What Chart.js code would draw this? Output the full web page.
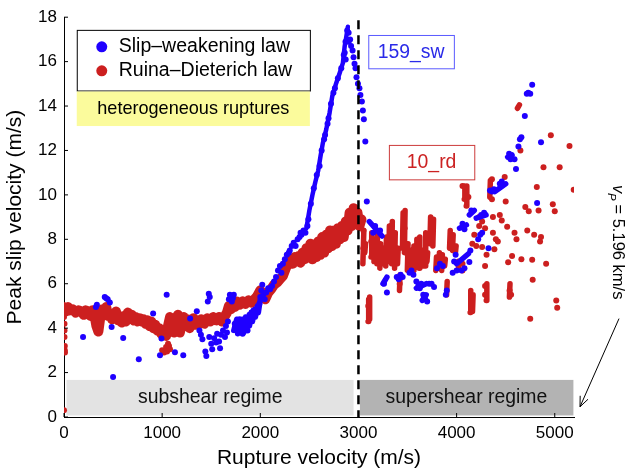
<!DOCTYPE html>
<html lang="en">
<head>
  <meta charset="UTF-8">
  <title>Peak slip velocity vs rupture velocity</title>
  <script src="https://cdn.jsdelivr.net/npm/chart.js"></script>
  <style>
    body { margin: 0; background: #fff; }
    #wrap { width: 631px; height: 473px; }
  </style>
</head>
<body>
  <div id="wrap"><canvas id="grafico" width="631" height="473"></canvas></div>

  <script>
    // axis ticks
    const xTicks = [0, 1000, 2000, 3000, 4000, 5000];
    const yTicks = [0, 2, 4, 6, 8, 10, 12, 14, 16, 18];
    const vShear = 3000;      // S-wave speed (dashed line)
    const vP = 5196;          // P-wave speed, end of axis

    // Ruina-Dieterich: dense band below vs, drawn as thick trace
    const rdBand = [
      [0,4.95],[20,4.75],[40,4.95],[60,4.8],[90,4.85],[120,4.7],[150,4.8],[180,4.75],[200,4.6],[220,4.8],
      [250,4.75],[270,4.55],[290,4.8],[310,4.6],[330,4.1],[350,3.85],[370,4.5],[390,4.85],[410,4.7],[430,4.95],
      [450,4.55],[470,4.65],[490,4.4],[510,4.6],[530,4.75],[550,4.35],[570,4.5],[590,4.25],[610,4.55],[630,4.3],
      [650,4.7],[670,4.45],[690,4.6],[710,4.35],[730,4.5],[750,4.3],[770,4.45],[790,4.3],[810,4.4],[830,4.2],
      [850,4.35],[870,4.1],[890,4.3],[910,4.0],[930,4.15],[950,3.9],[970,4.0],[990,3.75],[1010,3.85],[1040,3.65],
      [1060,4.1],[1080,4.5],[1100,4.2],[1120,3.8],[1140,4.3],[1160,4.6],[1180,3.8],[1200,4.2],[1220,4.5],[1240,4.1],
      [1260,4.4],[1280,4.0],[1300,4.25],[1320,4.45],[1340,4.15],[1360,4.35],[1380,4.2],[1400,4.4],[1430,4.2],[1460,4.45],
      [1490,4.3],[1520,4.5],[1550,4.35],[1580,4.5],[1610,4.3],[1640,4.55],[1660,4.7],[1680,5.0],[1700,4.85],[1720,5.1],
      [1740,4.95],[1760,5.2],[1790,5.05],[1820,5.2],[1850,5.1],[1880,5.25],[1910,5.15],[1940,5.3],[1970,5.45],[2000,5.7],
      [2020,5.55],[2050,5.3],[2080,5.6],[2110,5.75],[2140,5.95],[2170,6.05],[2200,6.2],[2230,6.35],[2260,6.7],[2290,7.0],
      [2310,7.1],[2330,6.9],[2350,7.2],[2370,7.0],[2390,7.25],[2410,6.95],[2430,7.4],[2450,7.1],[2470,7.6],[2490,7.2],
      [2510,7.8],[2530,7.1],[2550,7.7],[2570,7.2],[2590,7.9],[2610,7.3],[2630,8.1],[2650,7.4],[2670,8.2],[2690,7.6],
      [2710,8.4],[2730,7.7],[2750,8.4],[2770,7.8],[2790,8.5],[2810,8.0],[2830,8.6],[2850,8.1],[2870,8.8],[2890,8.4],
      [2910,9.2],[2930,8.6],[2950,9.4],[2970,8.8],[2990,9.2],[3010,8.6],[3030,8.9]
    ];

    // Ruina-Dieterich: short dense streaks [v0, s0, v1, s1]
    const rdStreaks = [
      [3045,6.9,3055,8.4],[3065,7.4,3072,7.8],[3098,4.3,3104,5.3],[3108,4.4,3114,5.4],[3128,7.2,3135,8.3],
      [3158,7.0,3165,8.0],[3188,6.9,3195,8.4],[3218,6.7,3225,7.8],[3248,6.9,3255,7.6],[3278,6.8,3285,8.1],
      [3308,7.0,3315,8.6],[3338,6.9,3345,8.8],[3368,6.7,3375,8.3],[3398,6.9,3405,7.6],[3418,5.7,3424,6.4],
      [3448,7.6,3455,9.2],[3468,7.4,3475,9.3],[3498,6.6,3505,7.8],[3528,6.8,3535,7.5],[3558,6.6,3565,7.7],
      [3588,6.9,3595,8.0],[3618,6.7,3625,8.1],[3648,6.8,3655,7.5],[3678,6.8,3685,8.3],[3698,7.0,3705,7.4],
      [3728,7.8,3735,9.0],[3758,7.7,3765,8.9],[3788,6.6,3795,7.2],[3818,6.7,3825,7.4],[3848,6.6,3855,7.3],
      [3878,6.8,3885,7.1],[3898,5.5,3904,6.1],[3928,7.6,3935,8.4],[3958,7.5,3965,8.2],[3988,7.4,3995,7.7],
      [4078,9.8,4084,10.4],[4098,9.5,4104,10.4],[4138,4.7,4144,5.7],[4162,4.75,4168,5.5],[4302,5.25,4308,6.0],
      [4338,9.9,4344,10.65],[4538,5.4,4544,6.0],[4620,13.9,4640,14.05]
    ];

    // Ruina-Dieterich: scattered points
    const rdPoints = [
      [0,4.5],[5,4.2],[5,3.9],[5,3.6],[8,3.2],[8,3.0],[10,2.9],[0,0.3],
      [1000,3.0],[1020,2.9],[1040,3.15],[1050,2.95],[1060,3.3],[1070,3.2],[1080,3.05],
      [3050,8.4],[3050,7.6],[3100,5.0],[3130,7.9],[3190,7.7],[3340,8.0],[3420,6.0],[3470,8.5],
      [4020,7.0],[4020,6.8],[4060,6.9],[4060,6.6],[4060,10.4],[4120,9.9],
      [4160,7.8],[4180,8.2],[4200,7.7],[4230,8.6],[4230,9.0],[4260,8.8],[4260,7.65],[4290,8.5],[4290,6.8],[4290,5.9],[4290,5.5],
      [4305,7.3],[4360,10.7],[4360,9.8],[4370,9.0],[4370,8.3],[4385,7.55],[4400,8.0],[4420,7.9],
      [4440,9.1],[4460,8.85],[4490,10.8],[4500,9.7],[4515,8.56],[4525,6.97],[4540,5.7],[4555,5.5],
      [4565,7.25],[4590,8.3],[4610,8.0],[4650,12.0],[4660,7.1],[4700,9.45],[4720,8.4],[4735,9.26],
      [4750,4.42],[4770,7.08],[4775,6.18],[4790,8.2],[4817,10.35],[4835,9.3],[4850,7.9],[4860,8.1],[4885,11.24],[4912,6.9],
      [4960,12.68],[4980,9.58],[5000,9.26],[5015,5.24],[5025,4.92],[5050,11.24],[5150,12.2],[5193,10.23]
    ];

    // Slip-weakening: continuous rise towards the peak
    const swTrace = [
      [2470,8.5],[2500,9.3],[2530,9.97],[2560,10.57],[2590,11.1],[2614,11.76],[2638,12.35],[2672,12.95],
      [2706,13.7],[2733,14.44],[2774,15.04],[2808,15.48],[2841,15.93],[2859,16.67],[2876,17.12],[2892,17.57]
    ];

    // Slip-weakening: dense streaks [v0, s0, v1, s1]
    const swStreaks = [
      [1730,3.9,1760,4.4],[1770,3.75,1790,4.3],[1800,3.8,1820,4.4],[1830,3.8,1850,4.5],[1860,3.9,1880,4.5],
      [1890,4.1,1910,4.7],[1920,4.3,1940,4.8],[1950,4.5,1970,5.0],[1980,4.7,2000,5.3],
      [3110,8.8,3240,8.15],[3250,6.0,3290,6.3],[3590,5.8,3690,6.0],[3650,5.25,3690,5.5],[4000,6.9,4120,7.35],
      [4030,8.5,4100,8.65],[4130,9.1,4180,9.3],[4200,8.95,4300,9.1],[4390,10.15,4500,10.5],[4520,11.7,4565,11.8]
    ];

    // Slip-weakening: scattered points
    const swPoints = [
      [194,3.6],[325,4.95],[335,5.05],[415,5.4],[430,5.35],[445,5.3],[467,5.16],[485,4.05],[500,1.8],[603,3.56],
      [762,2.6],[908,4.66],[978,2.78],[993,3.53],[1046,5.5],[1130,2.92],[1215,2.78],[1285,4.43],[1353,4.76],
      [1380,3.9],[1395,3.7],[1410,3.5],[1440,2.95],[1450,2.75],[1465,5.2],[1475,5.55],[1485,5.4],
      [1480,3.6],[1500,3.3],[1510,3.05],[1530,3.55],[1550,3.35],[1560,3.75],[1580,3.4],[1590,3.1],[1600,3.7],
      [1620,3.9],[1640,3.6],[1650,4.1],[1660,3.8],[1670,4.3],[1680,5.3],[1690,5.5],[1700,5.45],[1710,5.2],[1720,5.35],[1730,5.5],
      [1740,4.2],[1750,3.95],[1760,4.3],[1770,3.8],[1780,4.1],[1790,4.4],[1800,3.9],[1810,4.15],[1820,3.75],[1830,4.3],
      [1840,4.0],[1850,4.45],[1860,4.2],[1870,3.9],[1880,4.35],[1890,4.6],[1900,4.3],[1910,4.7],[1920,4.5],[1930,4.8],
      [1940,4.6],[1950,4.85],[1960,4.7],[1975,4.9],[1990,5.1],[2000,5.4],[2010,5.7],[2020,5.95],[2030,5.5],[2045,5.3],
      [2060,5.6],[2080,5.8],[2100,5.75],[2120,5.9],[2140,6.1],[2160,6.3],[2180,6.6],[2200,6.8],[2215,6.5],[2230,6.9],
      [2250,7.1],[2270,7.3],[2290,7.4],[2300,7.5],[2320,7.7],[2340,7.85],[2360,7.7],[2380,8.0],[2400,8.1],[2410,8.3],
      [2420,8.2],[2440,8.4],[2460,8.3],[2480,8.6],[2490,8.9],[2515,9.6],[2545,10.3],
      [2575,10.9],[2604,11.3],[2625,12.0],[2650,12.5],[2660,12.7],[2685,13.2],
      [2695,13.45],[2720,14.1],[2745,14.6],[2760,14.8],[2790,15.25],[2825,15.7],
      [2850,16.3],[2868,16.9],[2885,17.4],[2900,17.3],[2860,16.4],[2870,16.1],
      [2900,16.9],[2915,17.0],[2925,16.7],[2940,16.5],[2950,16.2],[2960,15.9],[2970,15.7],[2980,15.3],[2995,15.0],[3010,14.8],
      [3020,14.5],[3035,14.2],[3045,13.8],[3055,13.4],[3070,12.4],[3085,9.7],
      [3150,8.3],[3170,8.6],[3220,8.4],[3260,6.0],[3290,5.6],
      [3390,6.3],[3410,6.2],[3430,6.4],[3450,6.3],[3520,6.5],[3540,6.6],[3560,6.4],[3590,6.1],[3610,5.9],[3625,5.8],[3640,6.0],
      [3660,5.5],[3680,5.3],[3700,5.2],[3720,6.0],[3745,6.0],[3770,5.85],[3800,6.7],[3830,6.9],[3860,6.8],[3890,5.5],[3900,5.7],
      [3960,6.5],[3975,7.0],[3990,7.3],[4000,6.6],[4050,6.6],[4080,6.7],[4130,6.98],
      [4140,7.5],[4060,8.7],[4080,8.45],[4150,9.3],[4250,9.1],[4280,9.2],[4220,8.0],[4240,8.2],[4260,8.3],[4325,7.6],[4340,10.2],[4360,10.15],[4380,10.25],
      [4440,10.5],[4460,10.6],[4535,11.85],[4550,11.6],
      [4590,11.6],[4605,11.17],[4630,12.18],[4645,12.5],[4660,12.6],[4695,13.55],[4715,14.55],[4730,14.6],[4750,14.55],[4770,14.96],
      [4820,9.63],[4860,12.37]
    ];

    const BLUE = '#1f00ff';
    const RED = '#cc1f1f';
    const FONT = 'Liberation Sans, Arial, Helvetica, sans-serif';

    const toXY = arr => arr.map(p => ({ x: p[0], y: p[1] }));
    // segments separated by gaps so each streak is drawn on its own
    const toSegments = arr => arr.flatMap(s => [{ x: s[0], y: s[1] }, { x: s[2], y: s[3] }, { x: s[2], y: null }]);

    function fillText(ctx, txt, x, y, size, color, align) {
      ctx.font = size + 'px ' + FONT;
      ctx.fillStyle = color;
      ctx.textAlign = align || 'center';
      ctx.textBaseline = 'middle';
      ctx.fillText(txt, x, y);
    }

    const extras = {
      id: 'extras',
      beforeDatasetsDraw(chart) {
        const { ctx, scales: { x, y } } = chart;
        ctx.save();
        // regime boxes
        ctx.fillStyle = '#e3e3e3';
        ctx.fillRect(x.getPixelForValue(25), y.getPixelForValue(1.67), x.getPixelForValue(2950) - x.getPixelForValue(25), y.getPixelForValue(0.07) - y.getPixelForValue(1.67));
        ctx.fillStyle = '#b3b3b3';
        ctx.fillRect(x.getPixelForValue(3015), y.getPixelForValue(1.67), x.getPixelForValue(5190) - x.getPixelForValue(3015), y.getPixelForValue(0.07) - y.getPixelForValue(1.67));
        fillText(ctx, 'subshear regime', x.getPixelForValue(1490), y.getPixelForValue(0.85), 19.4, '#111');
        fillText(ctx, 'supershear regime', x.getPixelForValue(4100), y.getPixelForValue(0.85), 19.4, '#111');
        ctx.restore();
      },
      afterDatasetsDraw(chart) {
        const { ctx, chartArea, scales: { x, y } } = chart;
        ctx.save();

        // dashed line at vs
        ctx.strokeStyle = '#000';
        ctx.lineWidth = 2.5;
        ctx.setLineDash([9, 6]);
        ctx.beginPath();
        ctx.moveTo(x.getPixelForValue(vShear), chartArea.top + 3);
        ctx.lineTo(x.getPixelForValue(vShear), chartArea.bottom);
        ctx.stroke();
        ctx.setLineDash([]);

        // inward ticks
        ctx.lineWidth = 1;
        xTicks.forEach(t => {
          const px = x.getPixelForValue(t);
          ctx.beginPath(); ctx.moveTo(px, chartArea.bottom); ctx.lineTo(px, chartArea.bottom - 4); ctx.stroke();
        });
        yTicks.forEach(t => {
          const py = y.getPixelForValue(t);
          ctx.beginPath(); ctx.moveTo(chartArea.left, py); ctx.lineTo(chartArea.left + 4, py); ctx.stroke();
        });

        // legend
        const lx0 = x.getPixelForValue(130), lx1 = x.getPixelForValue(2505);
        const ly0 = y.getPixelForValue(17.43), ly1 = y.getPixelForValue(14.7);
        ctx.fillStyle = '#fff';
        ctx.fillRect(lx0, ly0, lx1 - lx0, ly1 - ly0);
        ctx.strokeStyle = '#000';
        ctx.lineWidth = 1;
        ctx.strokeRect(lx0 + 0.5, ly0 + 0.5, lx1 - lx0, ly1 - ly0);
        [[BLUE, 'Slip\u2013weakening law', 0], [RED, 'Ruina\u2013Dieterich law', 1]].forEach(([c, label, i]) => {
          const cy = ly0 + 17 + i * 24;
          ctx.fillStyle = c;
          ctx.beginPath(); ctx.arc(lx0 + 25, cy, 5.5, 0, Math.PI * 2); ctx.fill();
          fillText(ctx, label, lx0 + 42, cy, 19.5, '#000', 'left');
        });

        // heterogeneous ruptures
        const hy1 = y.getPixelForValue(13.1);
        ctx.fillStyle = '#fbfb9c';
        ctx.fillRect(lx0, ly1 + 1, lx1 - lx0, hy1 - ly1 - 1);
        fillText(ctx, 'heterogeneous ruptures', (lx0 + lx1) / 2, (ly1 + hy1) / 2 + 1, 18.1, '#000');

        // model labels
        const box = (v0, v1, s0, s1, txt, c, bc) => {
          const a = x.getPixelForValue(v0), b = x.getPixelForValue(v1);
          const t = y.getPixelForValue(s0), u = y.getPixelForValue(s1);
          ctx.fillStyle = '#fff';
          ctx.fillRect(a, t, b - a, u - t);
          ctx.strokeStyle = bc;
          ctx.lineWidth = 1;
          ctx.strokeRect(a + 0.5, t + 0.5, b - a, u - t);
          fillText(ctx, txt, (a + b) / 2, (t + u) / 2 + 1, 19.4, c);
        };
        box(3100, 3972, 17.2, 15.7, '159_sw', '#2a2ae8', '#5a5aff');
        box(3310, 4180, 12.25, 10.7, '10_rd', '#cc2222', '#cc3a3a');

        // vP annotation (outside the axes)
        const ax = chartArea.right;
        ctx.save();
        ctx.translate(ax + 39, y.getPixelForValue(10.45));
        ctx.rotate(Math.PI / 2);
        ctx.fillStyle = '#000';
        ctx.textBaseline = 'alphabetic';
        ctx.textAlign = 'left';
        ctx.font = 'italic 16.5px ' + FONT;
        ctx.fillText('v', 0, 0);
        ctx.font = 'italic 11.5px ' + FONT;
        ctx.fillText('P', 8, 5);
        ctx.font = '16.5px ' + FONT;
        ctx.fillText(' = 5.196 km/s', 15, 0);
        ctx.restore();

        // arrow pointing to end of axis
        const tx = ax + 6, ty = y.getPixelForValue(0.46);
        const sx = ax + 45, sy = y.getPixelForValue(4.43);
        ctx.strokeStyle = '#000';
        ctx.lineWidth = 1;
        ctx.beginPath(); ctx.moveTo(sx, sy); ctx.lineTo(tx, ty); ctx.stroke();
        const ang = Math.atan2(ty - sy, tx - sx);
        ctx.beginPath();
        ctx.moveTo(tx - 11 * Math.cos(ang - 0.4), ty - 11 * Math.sin(ang - 0.4));
        ctx.lineTo(tx, ty);
        ctx.lineTo(tx - 11 * Math.cos(ang + 0.4), ty - 11 * Math.sin(ang + 0.4));
        ctx.stroke();

        ctx.restore();
      }
    };

    const lineSet = (label, data, color, width) => ({
      label, data, showLine: true, borderColor: color, borderWidth: width,
      borderJoinStyle: 'round', borderCapStyle: 'round', pointRadius: 0, fill: false, spanGaps: false
    });

    const ctx = document.getElementById('grafico').getContext('2d');
    new Chart(ctx, {
      type: 'scatter',
      data: {
        datasets: [
          lineSet('Slip\u2013weakening streaks', toSegments(swStreaks), BLUE, 5.5),
          lineSet('Slip\u2013weakening trace', toXY(swTrace), BLUE, 4.5),
          { label: 'Slip\u2013weakening law', data: toXY(swPoints), backgroundColor: BLUE, borderWidth: 0, pointRadius: 3 },
          lineSet('Ruina\u2013Dieterich band', toXY(rdBand), RED, 10),
          lineSet('Ruina\u2013Dieterich streaks', toSegments(rdStreaks), RED, 5.5),
          { label: 'Ruina\u2013Dieterich law', data: toXY(rdPoints), backgroundColor: RED, borderWidth: 0, pointRadius: 3 }
        ]
      },
      options: {
        responsive: false,
        animation: false,
        devicePixelRatio: 1,
        layout: { padding: { top: 14, right: 57, left: 0, bottom: 0 } },
        plugins: { legend: { display: false }, tooltip: { enabled: false } },
        scales: {
          x: {
            type: 'linear',
            min: 0,
            max: vP,
            afterBuildTicks: s => { s.ticks = xTicks.map(v => ({ value: v })); },
            afterFit: s => { s.height = 56; },
            grid: { display: false, drawTicks: false },
            border: { display: true, color: '#000', width: 1 },
            ticks: { color: '#000', font: { family: FONT, size: 17 }, padding: 6, maxRotation: 0, callback: v => String(v) },
            title: { display: true, text: 'Rupture velocity (m/s)', color: '#000', font: { family: FONT, size: 21 }, padding: { top: 0, bottom: 2 } }
          },
          y: {
            type: 'linear',
            min: 0,
            max: 18,
            afterBuildTicks: s => { s.ticks = yTicks.map(v => ({ value: v })); },
            afterFit: s => { s.width = 64; },
            grid: { display: false, drawTicks: false },
            border: { display: true, color: '#000', width: 1 },
            ticks: { color: '#000', font: { family: FONT, size: 17 }, padding: 7, callback: v => String(v) },
            title: { display: true, text: 'Peak slip velocity (m/s)', color: '#000', font: { family: FONT, size: 21 }, padding: { top: 3, bottom: 0 } }
          }
        }
      },
      plugins: [extras]
    });
  </script>
</body>
</html>
